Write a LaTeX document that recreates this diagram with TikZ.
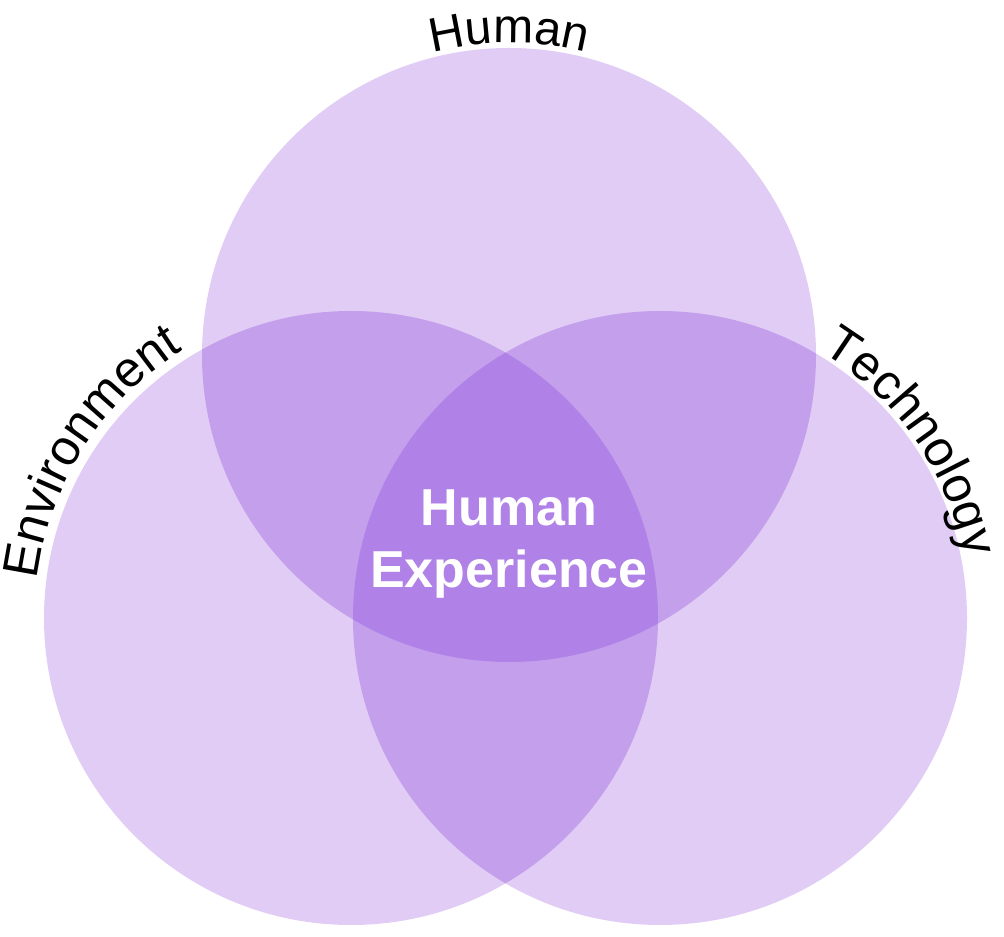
\documentclass[tikz,border=0pt]{standalone}
\usepackage{fontspec}
\setmainfont{Liberation Sans}
\usetikzlibrary{decorations.text}
\definecolor{cone}{HTML}{E0CCF4}
\definecolor{ctwo}{HTML}{C49FEC}
\definecolor{cthree}{HTML}{B081E6}
\begin{document}
\begin{tikzpicture}[x=1pt,y=1pt,
  lbl/.style={decorate},
  ctr/.style={text=white,font=\fontsize{52}{62}\selectfont\bfseries,align=center}]
\useasboundingbox (0,0) rectangle (1004,937);
\coordinate (T) at (509,582);
\coordinate (L) at (351,319);
\coordinate (R) at (660,319);
\def\rr{307}
\fill[cone] (T) circle[radius=\rr];
\fill[cone] (L) circle[radius=\rr];
\fill[cone] (R) circle[radius=\rr];
\begin{scope}\clip (T) circle[radius=\rr];
 \fill[ctwo] (L) circle[radius=\rr]; \fill[ctwo] (R) circle[radius=\rr];\end{scope}
\begin{scope}\clip (L) circle[radius=\rr]; \fill[ctwo] (R) circle[radius=\rr];\end{scope}
\begin{scope}\clip (T) circle[radius=\rr]; \clip (L) circle[radius=\rr]; \fill[cthree] (R) circle[radius=\rr];\end{scope}
\path[lbl,decoration={text along path,text align=center,
  text={|\fontsize{48}{48}\selectfont|Human}}]
  ([shift={(130:312)}]T) arc[start angle=130,end angle=50,radius=312];
\path[lbl,decoration={text along path,text align=center,
  text={|\fontsize{50}{50}\selectfont|Environment}}]
  ([shift={(205:316)}]L) arc[start angle=205,end angle=90,radius=316];
\path[lbl,decoration={text along path,text align=center,
  text={|\fontsize{50}{50}\selectfont|Technology}}]
  ([shift={(92:311)}]R) arc[start angle=92,end angle=-22,radius=311];
\node[ctr] (hx) at (509,393) {Human\\Experience};
\end{tikzpicture}
\end{document}
